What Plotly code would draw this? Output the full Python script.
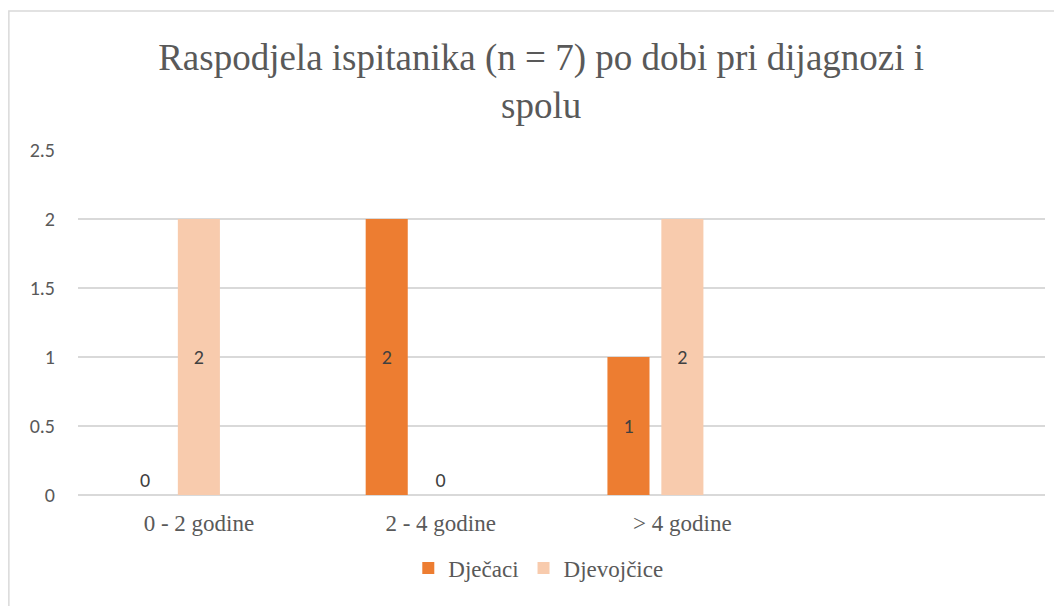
import plotly.graph_objects as go

categories = ["0 - 2 godine", "2 - 4 godine", "> 4 godine"]
djecaci = [0, 2, 1]
djevojcice = [2, 0, 2]
y_ticks = [0, 0.5, 1, 1.5, 2, 2.5]
y_tick_labels = ["0", "0.5", "1", "1.5", "2", "2.5"]

title_text = "Raspodjela ispitanika (n = 7) po dobi pri dijagnozi i<br>spolu"

BAR_W = 0.174
SANS = "Calibri, Carlito, Lato, sans-serif"
SERIF = "Liberation Serif"
TXT = "#404040"
TICK = "#595959"


def positions(vals):
    return ["outside" if v == 0 else "inside" for v in vals]


fig = go.Figure()
fig.add_trace(go.Bar(
    name="Dječaci", x=categories, y=djecaci,
    marker=dict(color="#ED7D31", line=dict(width=0)),
    width=BAR_W, offset=-0.310,
    text=[str(v) for v in djecaci], textposition=positions(djecaci),
    insidetextanchor="middle",
    textfont=dict(family=SANS, size=20, color=TXT),
    cliponaxis=False,
))
fig.add_trace(go.Bar(
    name="Djevojčice", x=categories, y=djevojcice,
    marker=dict(color="#F8CBAD", line=dict(width=0)),
    width=BAR_W, offset=-0.087,
    text=[str(v) for v in djevojcice], textposition=positions(djevojcice),
    insidetextanchor="middle",
    textfont=dict(family=SANS, size=20, color=TXT),
    cliponaxis=False,
))

fig.update_layout(
    width=1062, height=606,
    font=dict(family=SERIF, color=TICK),
    paper_bgcolor="white", plot_bgcolor="white",
    margin=dict(l=70, r=25, t=142, b=119),
    barmode="overlay",
    title=dict(
        text=title_text,
        font=dict(family=SERIF, size=37, color=TICK),
        x=0.502, xref="container", xanchor="center",
        y=0.898, yref="container", yanchor="middle",
    ),
    xaxis=dict(
        type="category",
        categoryorder="array", categoryarray=categories,
        range=[-0.5, 3.5],
        showgrid=False, showline=False, zeroline=False,
        ticks="", ticklabelstandoff=12,
        tickfont=dict(family=SERIF, size=23, color=TICK),
    ),
    yaxis=dict(
        range=[0, 2.5],
        tickvals=y_ticks, ticktext=y_tick_labels,
        showgrid=True, gridcolor="#D9D9D9", gridwidth=1.5,
        zeroline=True, zerolinecolor="#D9D9D9", zerolinewidth=1.5,
        showline=False, ticks="", ticklabelstandoff=22,
        tickfont=dict(family=SANS, size=20, color=TICK),
    ),
    legend=dict(
        orientation="h",
        x=0.476, xanchor="center",
        y=-0.212, yanchor="middle",
        font=dict(family=SERIF, size=23, color=TICK),
        itemwidth=30,
        traceorder="normal",
    ),
    shapes=[dict(
        type="rect", xref="paper", yref="paper",
        x0=-0.0715, x1=1.05, y0=-0.40, y1=1.403,
        line=dict(color="#D9D9D9", width=1.5),
        fillcolor="rgba(0,0,0,0)", layer="below",
    )],
)

fig.write_html("out.html")
